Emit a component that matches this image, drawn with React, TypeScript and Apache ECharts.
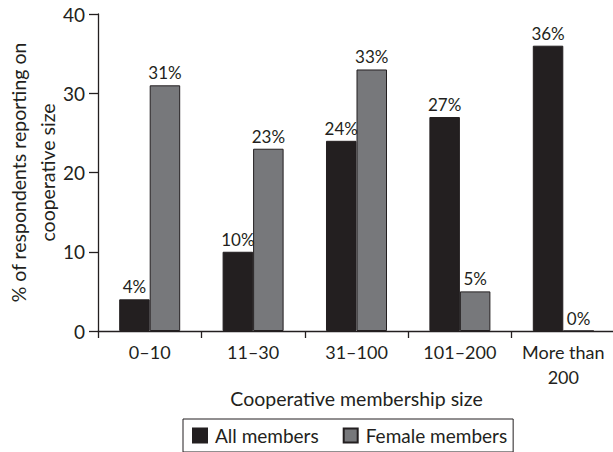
import React, { useEffect, useRef } from "react";
import * as echarts from "echarts";

const categories = ["0–10", "11–30", "31–100", "101–200", "More than\n200"];
const allMembers = [4, 10, 24, 27, 36];
const femaleMembers = [31, 23, 33, 5, 0];
const yTicks = { min: 0, max: 40, interval: 10 };

const INK = "#231f20";
const FONT = "Lato, 'Open Sans', sans-serif";

export default function App() {
  const ref = useRef<HTMLDivElement>(null);

  useEffect(() => {
    if (!ref.current) return;
    const chart = echarts.init(ref.current, undefined, { renderer: "svg" });
    const label = {
      show: true,
      position: "top" as const,
      distance: 4,
      color: INK,
      fontFamily: FONT,
      fontSize: 17,
      formatter: (p: any) => `${p.value}%`,
    };
    chart.setOption({
      animation: false,
      backgroundColor: "#ffffff",
      textStyle: { fontFamily: FONT, color: INK },
      grid: {
        left: 98,
        top: 14,
        width: 517,
        height: 317,
        containLabel: false,
        outerBoundsMode: "none",
      },
      legend: {
        data: ["All members", "Female members"],
        left: 183,
        top: 419,
        orient: "horizontal",
        borderColor: INK,
        borderWidth: 1,
        padding: [7, 6, 7, 9],
        itemWidth: 14,
        itemHeight: 14,
        itemGap: 24,
        icon: "rect",
        textStyle: { fontFamily: FONT, fontSize: 19, lineHeight: 17, color: INK, padding: [0, 0, 0, 3] },
      },
      xAxis: {
        type: "category",
        data: categories,
        name: "Cooperative membership size",
        nameLocation: "middle",
        nameGap: 57,
        nameMoveOverlap: false,
        nameTextStyle: { fontFamily: FONT, fontSize: 19.5, color: INK },
        axisLine: { lineStyle: { color: INK, width: 1.3 } },
        axisTick: { show: true, length: 7, alignWithLabel: false, lineStyle: { color: INK, width: 1.3 } },
        axisLabel: {
          interval: 0,
          margin: 8,
          fontFamily: FONT,
          fontSize: 18,
          lineHeight: 25,
          color: INK,
        },
      },
      yAxis: {
        type: "value",
        min: yTicks.min,
        max: yTicks.max,
        interval: yTicks.interval,
        name: "% of respondents reporting on\ncooperative size",
        nameLocation: "middle",
        nameGap: 36,
        nameRotate: 90,
        nameMoveOverlap: false,
        nameTextStyle: { fontFamily: FONT, fontSize: 19.5, lineHeight: 29, color: INK },
        splitLine: { show: false },
        axisLine: { show: true, lineStyle: { color: INK, width: 1.3 } },
        axisTick: { show: true, length: 9, lineStyle: { color: INK, width: 1.3 } },
        axisLabel: { margin: 13, fontFamily: FONT, fontSize: 19, color: INK },
      },
      series: [
        {
          name: "All members",
          type: "bar",
          data: allMembers,
          barGap: "0%",
          barCategoryGap: "41%",
          itemStyle: { color: INK, borderColor: INK, borderWidth: 1 },
          label,
        },
        {
          name: "Female members",
          type: "bar",
          data: femaleMembers,
          barGap: "0%",
          barCategoryGap: "41%",
          itemStyle: { color: "#77787b", borderColor: INK, borderWidth: 1 },
          label,
        },
      ],
    });
    return () => chart.dispose();
  }, []);

  return (
    <div
      ref={ref}
      style={{ position: "fixed", left: 0, top: 0, width: 613, height: 452, overflow: "hidden" }}
    />
  );
}
